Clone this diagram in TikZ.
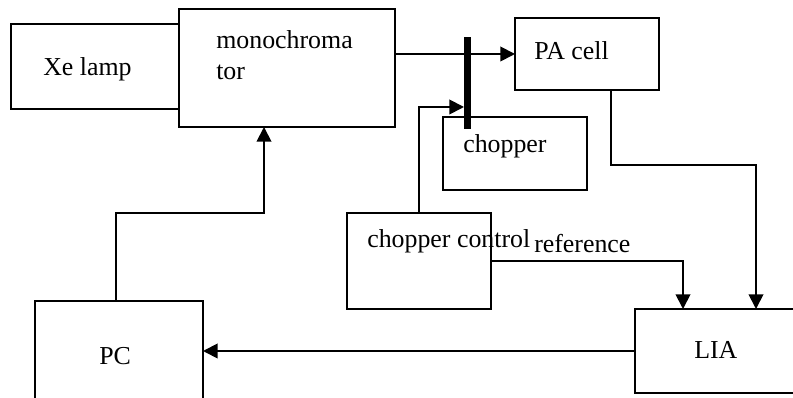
\documentclass[tikz,border=0pt]{standalone}
\usepackage{fontspec}
\setmainfont{Liberation Serif}
\usetikzlibrary{arrows.meta}

\begin{document}
\begin{tikzpicture}[
    x=0.75pt, y=-0.75pt,
    box/.style={draw, line width=1.4pt, fill=white, inner sep=0pt, outer sep=0pt},
    txt/.style={inner sep=0pt, anchor=base west, align=left, font=\fontsize{19.4}{23.3}\selectfont},
    arr/.style={-{Triangle[length=11pt, width=11pt]}, line width=1.4pt},
    wire/.style={line width=1.4pt}
]
    \useasboundingbox (0,0) rectangle (793,398);
    \clip (0,0) rectangle (793,398);

    % --- BOXES ---
    \node[box, minimum width=130.5pt, minimum height=63.75pt] (xe) at (98,66.5) {};
    \node[box, minimum width=162pt, minimum height=88.5pt] (mono) at (287,68) {};
    \node[box, minimum width=108pt, minimum height=54pt] (pa) at (587,54) {};
    \node[box, minimum width=108pt, minimum height=54.75pt] (chop) at (515,153.5) {};
    \node[box, minimum width=108pt, minimum height=72pt] (ctrl) at (419,261) {};
    \node[box, minimum width=126pt, minimum height=103.5pt] (pc) at (119,370) {};
    \node[box, minimum width=121.5pt, minimum height=63pt] (lia) at (716,351) {};

    % --- TEXTS ---
    \node[txt] (xetext) at (43,76) {Xe lamp};
    \node[txt] (monotext) at (216,80) {monochroma\\tor};
    \node[txt] (patext) at (534,60) {PA cell};
    \node[txt] (choptext) at (463,152.7) {chopper};
    \node[txt] (ctrltext) at (367,248) {chopper control};
    \node[txt] (reftext) at (534,252.5) {reference};
    \node[txt] (pctext) at (99,365) {PC};
    \node[txt] (liatext) at (694,359) {LIA};

    % --- CONNECTOR ENDS ---
    \coordinate (monoin) at ([xshift=-17.25pt]mono.south);
    \coordinate (paout) at ([xshift=18pt]pa.south);
    \coordinate (liaright) at ([xshift=30pt]lia.north);
    \coordinate (lialeft) at ([xshift=-24.75pt]lia.north);

    % --- ARROWS ---
    \draw[arr] (mono.east |- pa.west) -- (pa.west);
    \draw[arr] ([xshift=-2.25pt]pc.north) -- ++(0,-88) -| (monoin);
    \draw[arr] (paout) -- ++(0,75) -| (liaright);
    \draw[arr] (ctrl.east) -| (lialeft);
    \draw[arr] (lia.west) -- (lia.west -| pc.east);

    % --- CHOPPER BLADE ---
    \node[fill=black, inner sep=0pt, outer sep=0pt, minimum width=5.25pt, minimum height=69pt] (blade) at (467.5,83) {};
    \coordinate (bladein) at ([yshift=-18pt]blade.west);
    \draw[arr] (ctrl.north) |- (bladein);

\end{tikzpicture}
\end{document}
